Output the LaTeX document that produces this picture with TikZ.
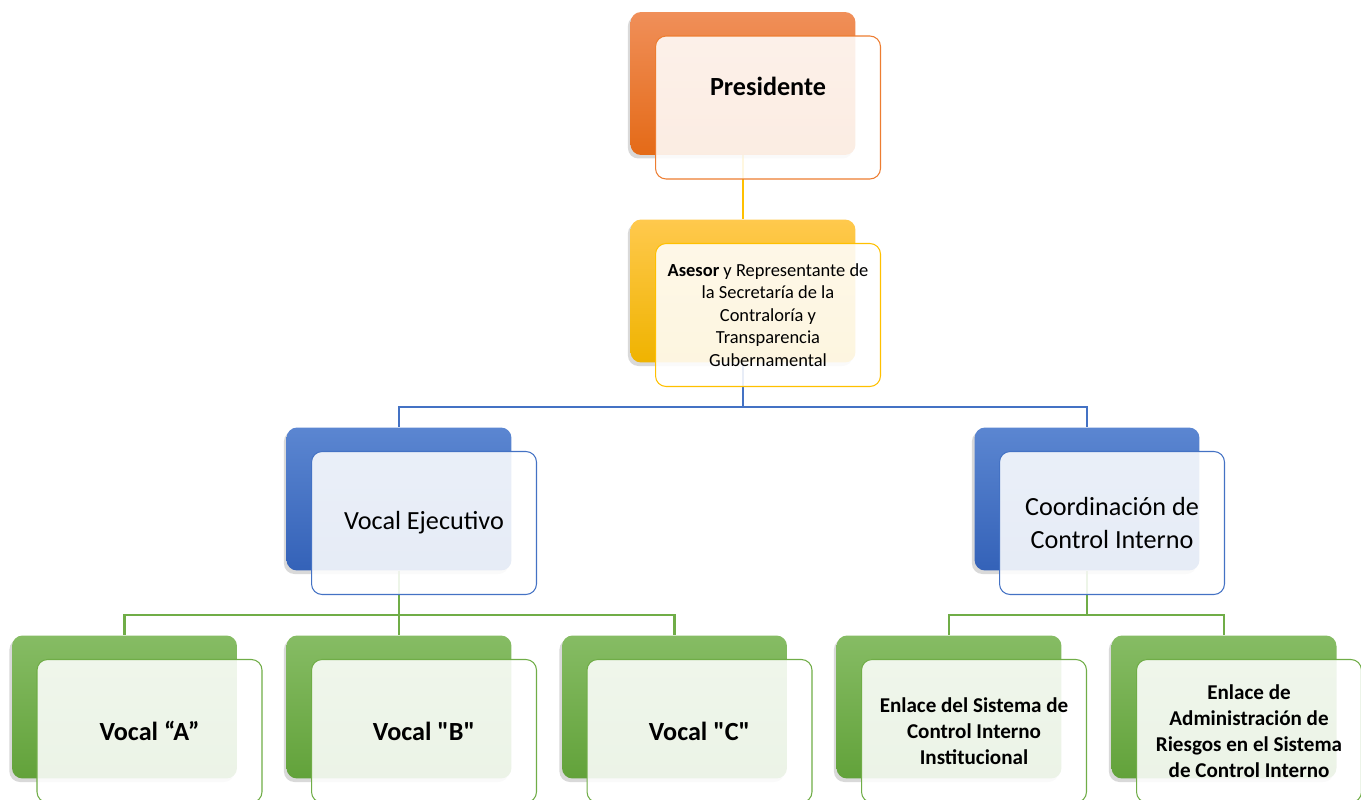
\documentclass[tikz,border=0pt]{standalone}
\usepackage{fontspec}
\setmainfont{Carlito}[Ligatures=TeXOff]
\usepackage{tikz}
\usetikzlibrary{shadows,positioning,calc,backgrounds}
\definecolor{orT}{HTML}{F08F59}
\definecolor{orB}{HTML}{E46A17}
\definecolor{orL}{HTML}{ED7D31}
\definecolor{yeT}{HTML}{FFC94D}
\definecolor{yeB}{HTML}{EFB300}
\definecolor{yeL}{HTML}{FFC000}
\definecolor{blT}{HTML}{5B86D1}
\definecolor{blB}{HTML}{3462B8}
\definecolor{blL}{HTML}{4472C4}
\definecolor{grT}{HTML}{86BC64}
\definecolor{grB}{HTML}{62A23A}
\definecolor{grL}{HTML}{70AD47}
\tikzstyle{boxback}=[rectangle, rounded corners=6pt, minimum width=4.5cm, minimum height=2.86cm, inner sep=0pt,
  drop shadow={shadow xshift=-1.5pt, shadow yshift=-2pt, opacity=0.3}]
\tikzstyle{boxfront}=[rectangle, rounded corners=6pt, minimum width=4.5cm, minimum height=2.86cm, inner sep=2pt,
  fill=white, fill opacity=0.88, text opacity=1, line width=0.6pt, align=center]
\tikzstyle{conn}=[line width=1.2pt]
\tikzstyle{big}=[font=\fontsize{14.9}{18.7}\selectfont]
\tikzstyle{bigb}=[font=\fontsize{14.9}{18.7}\selectfont\bfseries]
\tikzstyle{mid}=[font=\fontsize{12}{14.7}\selectfont\bfseries]
\tikzstyle{small}=[font=\fontsize{10.5}{12.8}\selectfont]

\begin{document}
\begin{tikzpicture}[x=0.02cm, y=-0.02cm]
      \useasboundingbox (0,0) rectangle (1361,800);
      % back boxes
      \node[boxback, top color=orT, bottom color=orB] (pres-b) at (743,83.5) {};
      \node[boxback, top color=yeT, bottom color=yeB] (ase-b) at (743,291) {};
      \node[boxback, top color=blT, bottom color=blB] (voc-b) at (399,499) {};
      \node[boxback, top color=blT, bottom color=blB] (coo-b) at (1087,499) {};
      \node[boxback, top color=grT, bottom color=grB] (va-b) at (124.5,707) {};
      \node[boxback, top color=grT, bottom color=grB] (vb-b) at (399,707) {};
      \node[boxback, top color=grT, bottom color=grB] (vc-b) at (674.5,707) {};
      \node[boxback, top color=grT, bottom color=grB] (en1-b) at (949,707) {};
      \node[boxback, top color=grT, bottom color=grB] (en2-b) at (1224,707) {};
      % front boxes
      \node[boxfront, draw=orL] (pres) at ([shift={(25,24)}]pres-b.center) {};
      \node[boxfront, draw=yeL, small] (ase) at ([shift={(25,24)}]ase-b.center)
        {\textbf{Asesor} y Representante de\\la Secretaría de la\\Contraloría y\\Transparencia\\Gubernamental};
      \node[boxfront, draw=blL, big] (voc) at ([shift={(25,24)}]voc-b.center) {Vocal Ejecutivo};
      \node[boxfront, draw=blL, big] (coo) at ([shift={(25,24)}]coo-b.center) {Coordinación de\\Control Interno};
      \node[boxfront, draw=grL, bigb] (va) at ([shift={(25,24)}]va-b.center) {Vocal “A”};
      \node[boxfront, draw=grL, bigb] (vb) at ([shift={(25,24)}]vb-b.center) {Vocal "B"};
      \node[boxfront, draw=grL, bigb] (vc) at ([shift={(25,24)}]vc-b.center) {Vocal "C"};
      \node[boxfront, draw=grL, mid] (en1) at ([shift={(25,24)}]en1-b.center)
        {Enlace del Sistema de\\Control Interno\\Institucional};
      \node[boxfront, draw=grL, mid] (en2) at ([shift={(25,24)}]en2-b.center)
        {Enlace de\\Administración de\\Riesgos en el Sistema\\de Control Interno};
      \node[bigb] (pres-t) at ($(pres.center)+(0,-21)$) {Presidente};
      % connectors
      \begin{pgfonlayer}{background}
      \draw[conn, yeL] (pres-b.south) -- (ase-b.north);
      \draw[conn, blL] (ase-b.south) |- ($(ase.south)!0.5!(voc-b.north)$) -| (voc-b.north);
      \draw[conn, blL] (ase-b.south) |- ($(ase.south)!0.5!(coo-b.north)$) -| (coo-b.north);
      \foreach \c in {va-b,vb-b,vc-b}
        \draw[conn, grL] (voc-b.south) |- ($(voc.south)!0.5!(\c.north)$) -| (\c.north);
      \foreach \c in {en1-b,en2-b}
        \draw[conn, grL] (coo-b.south) |- ($(coo.south)!0.5!(\c.north)$) -| (\c.north);
      \end{pgfonlayer}
      %
\end{tikzpicture}
\end{document}
